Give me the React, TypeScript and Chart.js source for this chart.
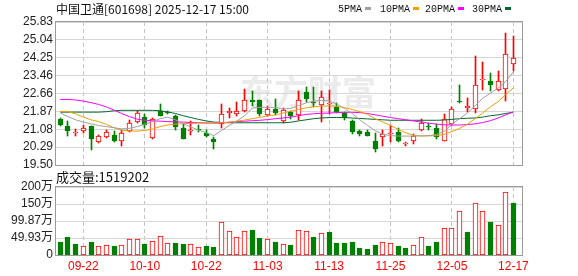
import React, { useEffect, useRef } from "react";
import { Chart, registerables } from "chart.js";

Chart.register(...registerables);

// ---------- data ----------
const stockName = "中国卫通[601698]";
const stamp = "2025-12-17 15:00";

const dates = [
  "09-17", "09-18", "09-19", "09-22", "09-23", "09-24", "09-25", "09-26", "09-29", "09-30",
  "10-09", "10-10", "10-13", "10-14", "10-15", "10-16", "10-17", "10-20", "10-21", "10-22",
  "10-23", "10-24", "10-27", "10-28", "10-29", "10-30", "10-31", "11-03", "11-04", "11-05",
  "11-06", "11-07", "11-10", "11-11", "11-12", "11-13", "11-14", "11-17", "11-18", "11-19",
  "11-20", "11-21", "11-24", "11-25", "11-26", "11-27", "11-28", "12-01", "12-02", "12-03",
  "12-04", "12-05", "12-08", "12-09", "12-10", "12-11", "12-12", "12-15", "12-16", "12-17",
];

const labeledDays = [3, 11, 19, 27, 35, 43, 51, 59];

const open = [
  21.54, 21.23, 20.90, 21.00, 21.22, 20.54, 20.76, 20.85, 20.58, 21.00,
  21.41, 21.62, 20.70, 21.90, 21.85, 21.69, 21.13, 21.02, 21.08, 20.92,
  20.63, 21.32, 21.78, 21.74, 21.88, 22.36, 22.37, 21.70, 21.98, 21.43,
  21.84, 21.72, 22.73, 22.31, 22.14, 22.21, 22.06, 21.80, 21.43, 20.99,
  20.95, 20.58, 20.73, 20.89, 20.98, 20.42, 20.55, 21.04, 21.21, 21.15,
  20.57, 21.30, 22.34, 22.02, 21.96, 23.28, 23.23, 22.81, 22.86, 23.96,
];
const high = [
  21.57, 21.46, 21.10, 21.25, 21.23, 20.81, 21.07, 21.00, 21.03, 21.47,
  21.91, 21.77, 21.59, 22.21, 21.89, 21.70, 21.32, 21.44, 21.25, 21.07,
  20.73, 22.21, 22.03, 22.31, 22.88, 22.79, 22.38, 22.13, 22.43, 22.02,
  21.91, 22.76, 22.95, 22.95, 22.77, 22.80, 22.26, 21.84, 21.47, 21.07,
  21.03, 20.91, 21.03, 21.25, 21.15, 20.53, 20.86, 21.52, 21.34, 21.33,
  21.74, 22.08, 23.05, 22.47, 24.33, 24.07, 23.59, 23.64, 25.35, 25.23,
];
const low = [
  21.24, 20.80, 20.80, 20.91, 20.18, 20.46, 20.71, 20.54, 20.36, 20.95,
  21.38, 21.13, 20.64, 21.65, 21.75, 21.03, 20.63, 20.83, 20.95, 20.73,
  20.21, 21.13, 21.56, 21.65, 21.84, 22.09, 21.69, 21.69, 21.72, 21.37,
  21.54, 21.47, 22.31, 22.06, 21.40, 21.74, 21.80, 21.50, 20.88, 20.77,
  20.77, 20.09, 20.36, 20.51, 20.53, 20.36, 20.43, 21.01, 21.04, 20.64,
  20.57, 21.23, 22.25, 21.84, 21.81, 22.83, 22.76, 22.76, 22.35, 23.64,
];
const close = [
  21.28, 21.01, 20.92, 21.14, 20.63, 20.80, 20.95, 20.58, 20.91, 21.37,
  21.78, 21.25, 21.54, 21.69, 21.79, 21.17, 20.66, 21.05, 21.06, 20.80,
  20.51, 21.74, 21.88, 21.91, 22.36, 22.31, 21.77, 22.00, 21.82, 21.94,
  21.69, 22.37, 22.40, 22.24, 22.49, 22.26, 21.84, 21.57, 20.98, 20.88,
  20.77, 20.21, 20.88, 20.91, 20.55, 20.44, 20.79, 21.37, 21.18, 20.76,
  21.55, 21.99, 22.31, 22.10, 23.05, 23.31, 23.02, 23.23, 24.41, 24.22,
];

// volume in shares
const volume = [
  377000, 520000, 320000, 260000, 380000, 260000, 290000, 260000, 290000, 460000,
  460000, 320000, 410000, 550000, 350000, 350000, 320000, 320000, 230000, 260000,
  230000, 985000, 720000, 520000, 700000, 750000, 490000, 460000, 380000, 320000,
  290000, 750000, 700000, 520000, 640000, 670000, 350000, 350000, 380000, 200000,
  170000, 290000, 380000, 350000, 260000, 200000, 290000, 520000, 260000, 380000,
  780000, 780000, 1300000, 670000, 1540000, 1300000, 985000, 870000, 1855000, 1519202,
];

const ma5 = [
  21.80, 21.64, 21.50, 21.40, 21.32, 21.25, 21.20, 21.15, 21.10, 21.12,
  21.20, 21.30, 21.42, 21.55, 21.62, 21.50, 21.34, 21.18, 21.05, 20.93,
  20.80, 21.03, 21.25, 21.45, 21.68, 22.02, 22.05, 22.06, 22.05, 21.98,
  22.00, 22.12, 22.25, 22.33, 22.36, 22.34, 22.20, 22.00, 21.78, 21.50,
  21.25, 21.02, 20.86, 20.80, 20.78, 20.78, 20.78, 20.79, 20.80, 20.85,
  21.00, 21.30, 21.55, 21.80, 22.12, 22.45, 22.68, 22.90, 23.20, 23.62,
];
const ma10 = [
  21.87, 21.87, 21.76, 21.62, 21.50, 21.42, 21.30, 21.15, 21.04, 21.00,
  21.00, 21.03, 21.09, 21.20, 21.27, 21.31, 21.33, 21.34, 21.35, 21.35,
  21.35, 21.37, 21.40, 21.44, 21.49, 21.55, 21.61, 21.67, 21.72, 21.80,
  21.88, 21.96, 22.03, 22.08, 22.10, 22.12, 22.10, 22.04, 21.96, 21.86,
  21.74, 21.55, 21.40, 21.25, 21.08, 20.92, 20.82, 20.78, 20.79, 20.80,
  20.86, 20.98, 21.12, 21.30, 21.55, 21.80, 22.08, 22.30, 22.62, 22.92,
];
const ma20 = [
  22.40, 22.40, 22.38, 22.33, 22.26, 22.18, 22.07, 21.93, 21.78, 21.64,
  21.53, 21.48, 21.46, 21.44, 21.42, 21.41, 21.40, 21.38, 21.37, 21.36,
  21.35, 21.36, 21.39, 21.42, 21.44, 21.46, 21.48, 21.51, 21.55, 21.58,
  21.62, 21.68, 21.74, 21.77, 21.79, 21.80, 21.82, 21.83, 21.83, 21.82,
  21.78, 21.72, 21.66, 21.60, 21.55, 21.50, 21.45, 21.40, 21.35, 21.31,
  21.28, 21.27, 21.27, 21.29, 21.32, 21.38, 21.46, 21.58, 21.72, 21.85,
];
const ma30 = [
  21.84, 21.84, 21.84, 21.84, 21.84, 21.84, 21.86, 21.90, 21.92, 21.92,
  21.92, 21.92, 21.92, 21.90, 21.85, 21.78, 21.68, 21.60, 21.52, 21.45,
  21.40, 21.38, 21.37, 21.37, 21.37, 21.37, 21.37, 21.37, 21.37, 21.37,
  21.39, 21.45, 21.50, 21.55, 21.58, 21.60, 21.60, 21.60, 21.58, 21.56,
  21.54, 21.52, 21.50, 21.48, 21.48, 21.48, 21.48, 21.48, 21.48, 21.48,
  21.49, 21.52, 21.55, 21.57, 21.58, 21.62, 21.68, 21.72, 21.78, 21.84,
];

const priceTicks = [19.5, 20.29, 21.08, 21.87, 22.66, 23.46, 24.25, 25.04, 25.83];
const volumeTicks = [0, 499300, 998700, 1500000, 2000000];

const maNames = ["5PMA", "10PMA", "20PMA", "30PMA"];

// ---------- styles ----------
const RED = "#ff0000";
const GREEN = "#008000";
const MA_COLORS = ["#a0a0a0", "#f0a000", "#ff00ff", "#006a2c"];
const AXIS_FONT = { family: "'Liberation Sans', 'Noto Sans CJK SC', sans-serif", size: 12 };
const CJK_FONT = "12px 'Noto Sans CJK SC', 'Liberation Sans', sans-serif";
const X_MIN = -0.56;
const X_MAX = 60.12;
const AXIS_W = 56;
const RIGHT_PAD = 56;

const candleUp = close.map((c, i) => c >= open[i]);
const candleColor = candleUp.map((u) => (u ? RED : GREEN));
const volUp = close.map((c, i) => (i === 0 ? c >= open[0] : c >= close[i - 1]));

function xScale(showLabels: boolean, height: number) {
  return {
    type: "linear" as const,
    min: X_MIN,
    max: X_MAX,
    offset: false,
    afterBuildTicks: (s: any) => {
      s.ticks = labeledDays.map((v) => ({ value: v }));
    },
    afterFit: (s: any) => {
      s.height = height;
    },
    grid: { color: "#c4c4c4", drawTicks: false, lineWidth: 1, offset: false },
    border: { display: false, dash: [4, 3] },
    ticks: {
      display: showLabels,
      autoSkip: false,
      maxRotation: 0,
      padding: 4,
      color: RED,
      font: AXIS_FONT,
      callback: (v: any) => dates[Number(v)] ?? "",
    },
  };
}

function frame(chart: any) {
  const { ctx, chartArea: a } = chart;
  ctx.save();
  ctx.strokeStyle = "#9a9a9a";
  ctx.lineWidth = 1;
  ctx.strokeRect(Math.round(a.left) - 0.5, Math.round(a.top) - 0.5, Math.round(a.right - a.left) + 1, Math.round(a.bottom - a.top) + 1);
  ctx.restore();
}

// snap bar elements (positions computed by the scales) onto whole pixels for crisp edges
const crispBars = {
  id: "crispBars",
  afterDatasetsUpdate(chart: any) {
    chart.data.datasets.forEach((_: any, di: number) => {
      const meta = chart.getDatasetMeta(di);
      if (meta.type !== "bar") return;
      meta.data.forEach((el: any) => {
        el.x = Math.floor(el.x) + 0.5;
        let y = Math.round(el.y);
        let b = Math.round(el.base);
        if (Math.abs(y - b) < 1) b = y + 1;
        el.y = y;
        el.base = b;
      });
    });
  },
};

const pricePlugin = {
  id: "priceDecor",
  beforeDraw(chart: any) {
    const { ctx } = chart;
    ctx.save();
    // watermark
    ctx.fillStyle = "#ebebeb";
    ctx.font = "bold 34px 'Noto Sans CJK SC', sans-serif";
    ctx.textBaseline = "middle";
    ctx.textAlign = "left";
    ctx.fillText("东方财富", 240, 92);
    // title
    ctx.fillStyle = "#111";
    ctx.font = CJK_FONT;
    ctx.fillText(stockName + " " + stamp, 56, 9);
    // legend
    ctx.font = "10px 'Liberation Mono', monospace";
    const starts = [338, 380, 425, 472];
    maNames.forEach((name, k) => {
      ctx.fillStyle = "#111";
      ctx.fillText(name, starts[k], 9);
      const w = ctx.measureText(name).width;
      ctx.fillStyle = MA_COLORS[k];
      ctx.fillRect(Math.round(starts[k] + w + 3), 7, 6, 3);
    });
    ctx.restore();
  },
  beforeDatasetsDraw(chart: any) {
    frame(chart);
  },
};

const volumePlugin = {
  id: "volDecor",
  beforeDraw(chart: any) {
    const { ctx } = chart;
    ctx.save();
    ctx.fillStyle = "#111";
    ctx.font = "13px 'Noto Sans CJK SC', sans-serif";
    ctx.textBaseline = "middle";
    ctx.fillText("成交量:" + volume[volume.length - 1], 56, 11);
    ctx.restore();
  },
  beforeDatasetsDraw(chart: any) {
    frame(chart);
  },
};

export default function App() {
  const priceRef = useRef<HTMLCanvasElement>(null);
  const volRef = useRef<HTMLCanvasElement>(null);

  useEffect(() => {
    const priceChart = new Chart(priceRef.current as HTMLCanvasElement, {
      type: "bar",
      data: {
        datasets: [
          ...[ma5, ma10, ma20, ma30].map((arr, k) => ({
            type: "line" as const,
            data: arr.map((v, i) => ({ x: i, y: v })),
            borderColor: MA_COLORS[k],
            borderWidth: 1,
            pointRadius: 0,
            tension: 0,
            order: 0,
          })),
          {
            type: "bar" as const,
            data: dates.map((_, i) => ({ x: i, y: [Math.min(open[i], close[i]), Math.max(open[i], close[i])] })),
            backgroundColor: candleUp.map((u) => (u ? "#ffffff" : GREEN)),
            borderColor: candleColor,
            borderWidth: 1,
            borderSkipped: false,
            barThickness: 5,
            minBarLength: 1,
            grouped: false,
            order: 1,
          },
          {
            type: "bar" as const,
            data: dates.map((_, i) => ({ x: i, y: [low[i], high[i]] })),
            backgroundColor: candleColor,
            borderWidth: 0,
            barThickness: 1,
            grouped: false,
            order: 2,
          },
        ] as any,
      },
      options: {
        responsive: false,
        devicePixelRatio: 1,
        animation: false,
        events: [],
        layout: { padding: { left: 0, right: RIGHT_PAD, top: 22, bottom: 11 } },
        plugins: { legend: { display: false }, tooltip: { enabled: false }, title: { display: false } },
        scales: {
          x: xScale(false, 0) as any,
          y: {
            type: "linear",
            min: priceTicks[0],
            max: priceTicks[priceTicks.length - 1],
            afterBuildTicks: (s: any) => {
              s.ticks = priceTicks.map((v) => ({ value: v }));
            },
            afterFit: (s: any) => {
              s.width = AXIS_W;
            },
            grid: { color: "#d6d6d6", drawTicks: false },
            border: { display: false },
            ticks: {
              autoSkip: false,
              padding: 3,
              color: "#222",
              font: AXIS_FONT,
              callback: (v: any) => Number(v).toFixed(2),
            },
          },
        },
      },
      plugins: [crispBars, pricePlugin],
    });

    const volChart = new Chart(volRef.current as HTMLCanvasElement, {
      type: "bar",
      data: {
        datasets: [
          {
            data: volume.map((v, i) => ({ x: i, y: v })),
            backgroundColor: volUp.map((u) => (u ? "#ffffff" : GREEN)),
            borderColor: volUp.map((u) => (u ? RED : GREEN)),
            borderWidth: 1,
            borderSkipped: false,
            barThickness: 5,
            grouped: false,
          },
        ] as any,
      },
      options: {
        responsive: false,
        devicePixelRatio: 1,
        animation: false,
        events: [],
        layout: { padding: { left: 0, right: RIGHT_PAD, top: 21, bottom: 0 } },
        plugins: { legend: { display: false }, tooltip: { enabled: false } },
        scales: {
          x: xScale(true, 21) as any,
          y: {
            type: "linear",
            min: 0,
            max: volumeTicks[volumeTicks.length - 1],
            afterBuildTicks: (s: any) => {
              s.ticks = volumeTicks.map((v) => ({ value: v }));
            },
            afterFit: (s: any) => {
              s.width = AXIS_W;
            },
            grid: { color: "#d6d6d6", drawTicks: false },
            border: { display: false },
            ticks: {
              autoSkip: false,
              padding: 3,
              color: "#222",
              font: AXIS_FONT,
              callback: (v: any) => (Number(v) === 0 ? "0" : parseFloat((Number(v) / 10000).toFixed(2)) + "万"),
            },
          },
        },
      },
      plugins: [crispBars, volumePlugin],
    });

    return () => {
      priceChart.destroy();
      volChart.destroy();
    };
  }, []);

  return (
    <div style={{ position: "absolute", left: 0, top: 0, width: 578, height: 276, background: "#ffffff", overflow: "hidden" }}>
      <canvas ref={priceRef} width={578} height={176} style={{ position: "absolute", left: 0, top: 0, width: 578, height: 176 }} />
      <canvas ref={volRef} width={578} height={110} style={{ position: "absolute", left: 0, top: 166, width: 578, height: 110 }} />
    </div>
  );
}
